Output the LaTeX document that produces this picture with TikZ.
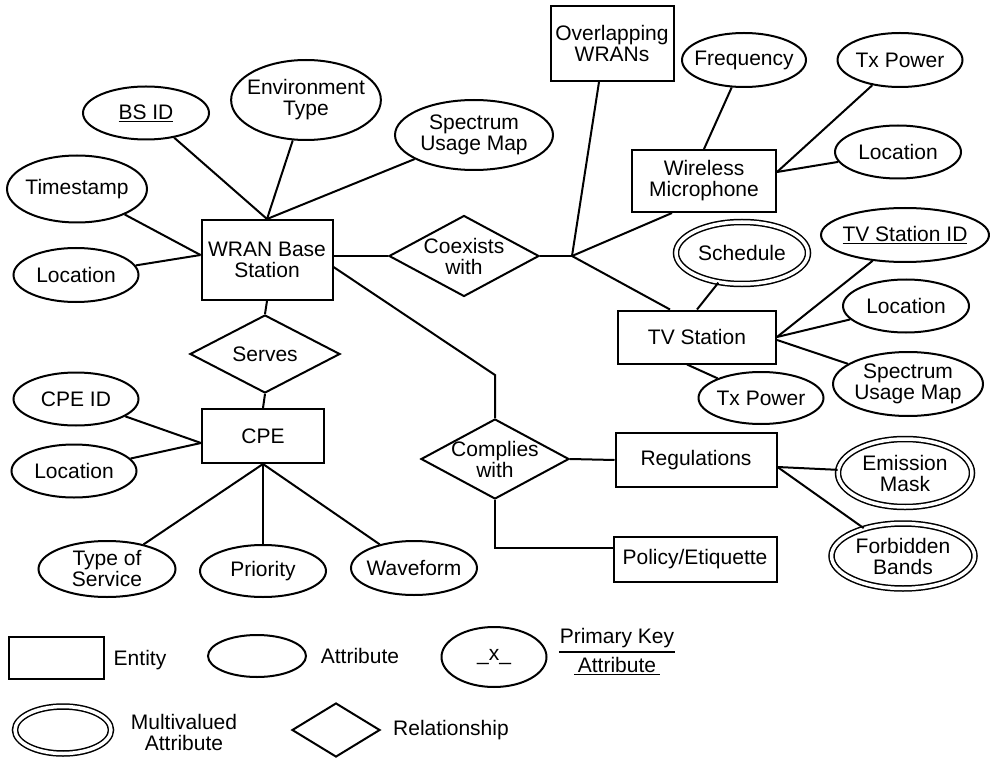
\documentclass[tikz,border=0pt]{standalone}
\usepackage{fontspec}
\setmainfont{Liberation Sans}
\usetikzlibrary{shapes.geometric}
\begin{document}
\begin{tikzpicture}[x=1pt,y=-1pt,line width=2pt,
  font=\fontsize{21}{21}\selectfont,
  entity/.style={draw,rectangle,inner sep=0pt,align=center},
  attr/.style={draw,ellipse,inner xsep=-6pt,inner ysep=0pt,align=center},
  multi/.style={attr,double,double distance=3.5pt,line width=1.5pt},
  rel/.style={draw,diamond,inner sep=-3pt,aspect=1.85,align=center}]
  \useasboundingbox (0,0) rectangle (990,759);

  % base station side
  \node[entity,minimum width=131pt,minimum height=80pt] (wran) at (267,260) {WRAN Base\\Station};
  \node[attr,minimum width=126pt,minimum height=53pt] (bsid) at (146,113) {\underline{BS ID}};
  \node[attr,minimum width=148pt,minimum height=80pt] (envtype) at (306,100) {Environment\\Type};
  \node[attr,minimum width=158pt,minimum height=70pt] (specmap) at (474,135) {Spectrum\\Usage Map};
  \node[attr,minimum width=140pt,minimum height=67pt] (tstamp) at (77,189) {Timestamp};
  \node[attr,minimum width=125pt,minimum height=54pt] (bsloc) at (76,275) {Location};
  \node[rel,minimum width=150pt,minimum height=81pt] (coex) at (464,256) {Coexists\\with};
  \node[rel,minimum width=150pt,minimum height=78pt] (serves) at (265,354) {Serves};

  \draw (bsid) -- (wran.north);
  \draw (envtype) -- (wran.north);
  \draw (specmap) -- (wran.north);
  \draw (tstamp) -- ([yshift=5pt]wran.west);
  \draw (bsloc) -- ([yshift=5pt]wran.west);
  \draw (coex.west) -- (coex.west -| wran.east);
  \draw (wran.south) -- (serves.north);

  % CPE
  \node[entity,minimum width=122pt,minimum height=54pt] (cpe) at (263,436) {CPE};
  \node[attr,minimum width=125pt,minimum height=53pt] (cpeid) at (76,399) {CPE ID};
  \node[attr,minimum width=125pt,minimum height=53pt] (cpeloc) at (74,471) {Location};
  \node[attr,minimum width=137pt,minimum height=56pt] (tos) at (107,569) {Type of\\Service};
  \node[attr,minimum width=126pt,minimum height=52pt] (prio) at (263,571) {Priority};
  \node[attr,minimum width=126pt,minimum height=54pt] (wave) at (414,568) {Waveform};

  \draw (serves.south) -- (cpe.north);
  \draw (cpeid) -- ([yshift=-7pt]cpe.west);
  \draw (cpeloc) -- ([yshift=-7pt]cpe.west);
  \draw (cpe.south) -- (tos);
  \draw (cpe.south) -- (prio);
  \draw (cpe.south) -- (wave);

  % coexistence partners
  \coordinate (jn) at (572,256);
  \node[entity,minimum width=123pt,minimum height=75pt] (overlap) at (612,43.5) {Overlapping\\WRANs};
  \node[entity,minimum width=144pt,minimum height=62pt] (wm) at (704,181) {Wireless\\Microphone};
  \node[attr,minimum width=124pt,minimum height=54pt] (freq) at (744,60) {Frequency};
  \node[attr,minimum width=125pt,minimum height=54pt] (wmtx) at (900,60) {Tx Power};
  \node[attr,minimum width=126pt,minimum height=53pt] (wmloc) at (898,152) {Location};

  \draw (coex.east) -- (jn);
  \draw (jn) -- ([xshift=-13pt]overlap.south);
  \draw (jn) -- ([xshift=-32pt]wm.south);
  \draw (freq) -- (wm.north);
  \draw (wmtx) -- ([yshift=9pt]wm.east);
  \draw (wmloc) -- ([yshift=9pt]wm.east);

  \node[entity,minimum width=158pt,minimum height=53pt] (tv) at (697,337) {TV Station};
  \node[multi,minimum width=132pt,minimum height=62pt] (sched) at (742,253) {Schedule};
  \node[attr,minimum width=168pt,minimum height=54pt] (tvid) at (905,235) {\underline{TV Station ID}};
  \node[attr,minimum width=126pt,minimum height=53pt] (tvloc) at (906,306) {Location};
  \node[attr,minimum width=150pt,minimum height=64pt] (tvspec) at (908,384) {Spectrum\\Usage Map};
  \node[attr,minimum width=125pt,minimum height=52pt] (tvtx) at (761,398) {Tx Power};

  \draw (jn) -- ([xshift=-27pt]tv.north);
  \draw (sched) -- (tv.north);
  \draw (tvid) -- (tv.east);
  \draw (tvloc) -- (tv.east);
  \draw (tvspec) -- ([yshift=-3pt]tv.east);
  \draw (tvtx) -- ([xshift=-10pt]tv.south);

  % compliance
  \coordinate (bend) at (495,375);
  \node[rel,minimum width=148pt,minimum height=80pt] (comply) at (495,459) {Complies\\with};
  \node[entity,minimum width=161pt,minimum height=54pt] (reg) at (696,460) {Regulations};
  \node[entity,minimum width=163pt,minimum height=45pt] (policy) at (695,559) {Policy/Etiquette};
  \node[multi,minimum width=134pt,minimum height=68pt] (mask) at (905,473) {Emission\\Mask};
  \node[multi,minimum width=143pt,minimum height=65pt] (bands) at (903,556) {Forbidden\\Bands};

  \draw ([yshift=-7pt]wran.east) -- (bend) -- (comply.north);
  \draw (comply.east) -- (reg.west);
  \draw (comply.south) |- ([yshift=11pt]policy.west);
  \draw ([yshift=-7pt]reg.east) -- (mask);
  \draw ([yshift=-7pt]reg.east) -- (bands);

  % legend
  \node[entity,minimum width=95pt,minimum height=42pt] (lentity) at (56,658) {};
  \node (lentitytxt) at (140,660) {Entity};
  \node[attr,minimum width=98pt,minimum height=42pt] (lattr) at (257,656) {};
  \node (lattrtxt) at (360,656) {Attribute};
  \node[attr,minimum width=105pt,minimum height=60pt] (lkey) at (494,657) {\_x\_};
  \node[inner xsep=0pt] (lkeytxt) at (617,638) {Primary Key};
  \draw ([yshift=-14pt]lkeytxt.west) -- ([yshift=-14pt]lkeytxt.east);
  \node (lkeyattr) at (617,666) {\underline{\,Attribute\,}};
  \node[multi,minimum width=96pt,minimum height=47pt] (lmulti) at (63,730) {};
  \node[align=center] (lmultitxt) at (184,732) {Multivalued\\Attribute};
  \node[rel,minimum width=88pt,minimum height=54pt] (lrel) at (336,730) {};
  \node (lreltxt) at (451,730) {Relationship};
\end{tikzpicture}
\end{document}
